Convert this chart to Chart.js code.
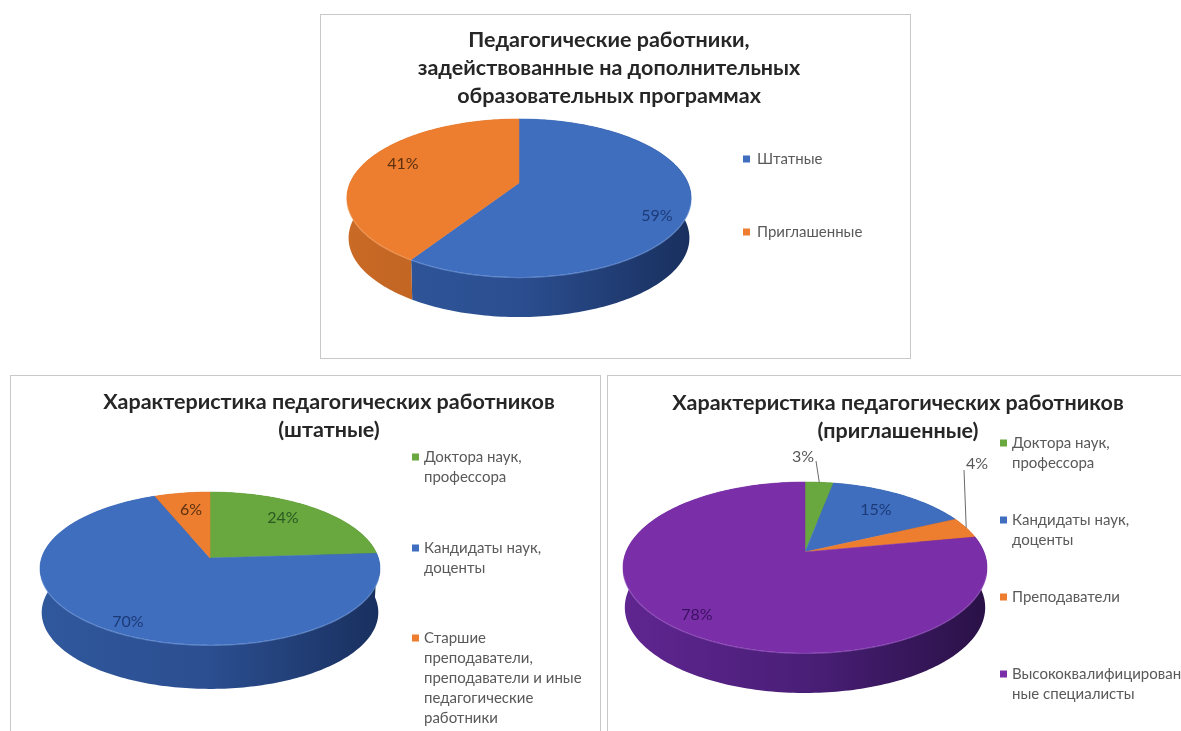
<!DOCTYPE html>
<html lang="ru">
<head>
<meta charset="utf-8">
<script src="https://cdn.jsdelivr.net/npm/chart.js@4"></script>
<style>
html,body{margin:0;padding:0;background:#fff;overflow:hidden;width:1181px;height:731px}
.box{position:absolute;border:1px solid #c9c9c9;box-sizing:border-box;background:#fff}
canvas{position:absolute;filter:blur(.6px)}
</style>
</head>
<body>
<div class="box" style="left:320px;top:14px;width:591px;height:345px"></div>
<div class="box" style="left:10px;top:375px;width:591px;height:380px"></div>
<div class="box" style="left:607px;top:375px;width:600px;height:380px"></div>
<canvas id="c1" width="578" height="344" style="left:320px;top:14px"></canvas>
<canvas id="c2" width="658" height="356" style="left:0;top:375px"></canvas>
<canvas id="c3" width="566" height="356" style="left:615px;top:375px"></canvas>
<script>
// ---- data ----
const categories1 = ['Штатные', 'Приглашенные'];
const values1 = [59, 41];
const title1 = ['Педагогические работники,', 'задействованные на дополнительных', 'образовательных программах'];

const categories2 = ['Доктора наук, профессора', 'Кандидаты наук, доценты', 'Старшие преподаватели, преподаватели и иные педагогические работники'];
const values2 = [24, 70, 6];
const title2 = ['Характеристика педагогических работников', '(штатные)'];

const categories3 = ['Доктора наук, профессора', 'Кандидаты наук, доценты', 'Преподаватели', 'Высококвалифицированные специалисты'];
const values3 = [3, 15, 4, 78];
const title3 = ['Характеристика педагогических работников', '(приглашенные)'];

const legendLines1 = [['Штатные'], ['Приглашенные']];
const legendLines2 = [['Доктора наук,', 'профессора'], ['Кандидаты наук,', 'доценты'], ['Старшие', 'преподаватели,', 'преподаватели и иные', 'педагогические', 'работники']];
const legendLines3 = [['Доктора наук,', 'профессора'], ['Кандидаты наук,', 'доценты'], ['Преподаватели'], ['Высококвалифицирован', 'ные специалисты']];

// ---- styles ----
const BLUE = {top:'#3f6ebf', rim:'rgba(120,160,225,.55)', side:['#30589c','#2b4e90','#19305f']};
const ORANGE = {top:'#ed7d2f', rim:'rgba(246,170,110,.55)', side:['#c96a26','#b85e1e','#9c4e16']};
const GREEN = {top:'#69a83f', rim:'rgba(150,200,110,.55)', side:['#55862f','#4a7729','#37591e']};
const PURPLE = {top:'#7a2fa8', rim:'rgba(160,95,200,.55)', side:['#5f2590','#4a1f78','#2a1147']};
const FONT = 'Lato, Carlito, "Open Sans", sans-serif';

function tilt(u, v, g) {
  const d = 1 - g.a * v;
  return [g.cx + g.k * u / d, g.cy + g.b * v / d];
}
function rimPoints(t0, t1, g) {
  const n = Math.max(2, Math.ceil(Math.abs(t1 - t0) / 0.02)), pts = [];
  for (let i = 0; i <= n; i++) {
    const t = t0 + (t1 - t0) * i / n;
    pts.push(tilt(Math.sin(t), -Math.cos(t), g));
  }
  return pts;
}
function draw3d(chart, s) {
  const ctx = chart.ctx, g = s.geo, arcs = chart.getDatasetMeta(0).data;
  const ox = s.left, oy = s.top;
  ctx.save();
  ctx.translate(-ox, -oy);
  const angles = arcs.map(a => [a.startAngle + Math.PI / 2, a.endAngle + Math.PI / 2]);
  // side wall
  angles.forEach(([t0, t1], i) => {
    const pts = rimPoints(t0, t1, g), st = s.colors[i];
    const grad = ctx.createLinearGradient(g.cx - g.k, 0, g.cx + g.k, 0);
    grad.addColorStop(0, st.side[0]); grad.addColorStop(.5, st.side[1]); grad.addColorStop(1, st.side[2]);
    ctx.beginPath();
    pts.forEach((p, j) => j ? ctx.lineTo(p[0], p[1]) : ctx.moveTo(p[0], p[1]));
    pts.slice().reverse().forEach(p => ctx.lineTo(g.cx + (p[0] - g.cx) * g.shrink, p[1] + g.depth));
    ctx.closePath();
    ctx.fillStyle = grad; ctx.fill();
  });
  // top face
  angles.forEach(([t0, t1], i) => {
    const pts = rimPoints(t0, t1, g);
    ctx.beginPath();
    ctx.moveTo(g.cx, g.cy);
    pts.forEach(p => ctx.lineTo(p[0], p[1]));
    ctx.closePath();
    ctx.fillStyle = s.colors[i].top; ctx.fill();
    ctx.strokeStyle = s.colors[i].top; ctx.lineWidth = .5; ctx.stroke();
  });
  // bevel highlight on the front rim
  angles.forEach(([t0, t1], i) => {
    const a = Math.max(t0, Math.PI * .58), b = Math.min(t1, Math.PI * 1.42);
    if (b <= a) return;
    const pts = rimPoints(a, b, g);
    ctx.beginPath();
    pts.forEach((p, j) => j ? ctx.lineTo(p[0], p[1] + .5) : ctx.moveTo(p[0], p[1] + .5));
    ctx.strokeStyle = s.colors[i].rim; ctx.lineWidth = 1.2; ctx.stroke();
  });
  // leader lines
  (s.leaders || []).forEach(l => {
    const [t0, t1] = angles[l.index], m = (t0 + t1) / 2;
    const p = tilt(Math.sin(m), -Math.cos(m), g);
    ctx.beginPath(); ctx.moveTo(l.x, l.y); ctx.lineTo(p[0], p[1]);
    ctx.strokeStyle = '#6a6a6a'; ctx.lineWidth = 1; ctx.stroke();
  });
  // percentage labels
  const vals = chart.data.datasets[0].data;
  ctx.font = s.labelFont + ' ' + FONT;
  ctx.textAlign = 'center'; ctx.textBaseline = 'middle';
  vals.forEach((v, i) => {
    const l = s.labels[i];
    ctx.fillStyle = l.color;
    ctx.fillText(v + '%', l.x, l.y);
  });
  // legend
  ctx.font = s.legendFont + ' ' + FONT;
  ctx.textAlign = 'left';
  s.legendLines.forEach((lines, i) => {
    const it = s.legend[i];
    ctx.fillStyle = s.colors[i].top;
    ctx.fillRect(s.legendX, it - 3.5, 7, 7);
    ctx.fillStyle = '#595959';
    lines.forEach((t, j) => ctx.fillText(t, s.legendTextX, it + j * 20));
  });
  ctx.restore();
}
const pie3d = {
  id: 'pie3d',
  beforeDatasetsDraw(chart, args, opts) {
    draw3d(chart, opts.style);
    return false;
  }
};
function build(id, cats, vals, title, titleTop, titleFont, style) {
  return new Chart(document.getElementById(id), {
    type: 'pie',
    plugins: [pie3d],
    data: {labels: cats, datasets: [{data: vals, backgroundColor: style.colors.map(c => c.top), borderWidth: 0}]},
    options: {
      responsive: false,
      animation: false,
      events: [],
      plugins: {
        legend: {display: false},
        tooltip: {enabled: false},
        title: {
          display: true, text: title, color: '#262626',
          font: {family: FONT, weight: 'bold', size: titleFont, lineHeight: '28px'},
          padding: {top: titleTop, bottom: 0}
        },
        pie3d: {style}
      }
    }
  });
}
build('c1', categories1, values1, title1, 12, 21.5, {
  left: 320, top: 14,
  colors: [BLUE, ORANGE],
  geo: {cx: 519, cy: 183, k: 169, a: .19, b: 76.2, depth: 40, shrink: .99},
  labelFont: '16px',
  labels: [{x: 657, y: 216, color: '#1c3a78'}, {x: 403, y: 164, color: '#5a3010'}],
  legendFont: '15px', legendLines: legendLines1, legend: [159, 232], legendX: 743, legendTextX: 757
});
build('c2', categories2, values2, title2, 13, 21.5, {
  left: 0, top: 375,
  colors: [GREEN, BLUE, ORANGE],
  geo: {cx: 210, cy: 558, k: 168.4, a: .137, b: 75, depth: 44, shrink: .99},
  labelFont: '16px',
  labels: [{x: 283, y: 518, color: '#2a5a20'}, {x: 128, y: 622, color: '#1c3a78'}, {x: 191, y: 510, color: '#5a3010'}],
  legendFont: '15px', legendLines: legendLines2, legend: [457, 548, 638], legendX: 412, legendTextX: 424
});
build('c3', categories3, values3, title3, 14, 21.5, {
  left: 615, top: 375,
  colors: [GREEN, BLUE, ORANGE, PURPLE],
  geo: {cx: 805, cy: 552, k: 179, a: .181, b: 82.7, depth: 40, shrink: .99},
  labelFont: '16px',
  labels: [{x: 803, y: 457, color: '#595959'}, {x: 876, y: 510, color: '#1c3a78'}, {x: 977, y: 464, color: '#595959'}, {x: 697, y: 615, color: '#3a1060'}],
  leaders: [{index: 0, x: 816, y: 461}, {index: 2, x: 964, y: 470}],
  legendFont: '15px', legendLines: legendLines3, legend: [443, 520, 597, 674], legendX: 1000, legendTextX: 1012
});
</script>
</body>
</html>
